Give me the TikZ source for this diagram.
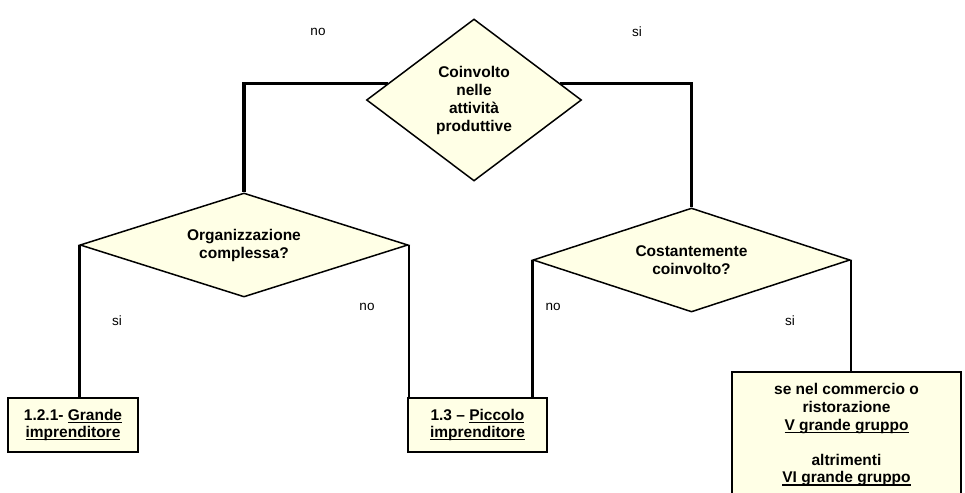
\documentclass[tikz,border=0pt]{standalone}
\usepackage{fontspec}
\setmainfont{Liberation Sans}
\usetikzlibrary{shapes.geometric}
\definecolor{cream}{RGB}{255,255,230}
\newcommand{\undl}[1]{\setbox0\hbox{#1}\rlap{\rule[-2.6pt]{\wd0}{1.2pt}}\box0}

\begin{document}
\begin{tikzpicture}[x=1pt,y=-1pt]
	\tikzstyle{decision} = [diamond, draw=black, line width=1.5pt, fill=cream, 
	inner sep=0pt, text centered, align=center, 
	font=\fontsize{15.5}{18}\selectfont\bfseries]
	\tikzstyle{outcome} = [rectangle, draw=black, line width=1.5pt, fill=cream, 
	inner sep=0pt, align=center, font=\fontsize{15.5}{17.6}\selectfont\bfseries]
	\tikzstyle{link} = [line width=2.5pt]
	\tikzstyle{answer} = [font=\fontsize{13.5}{16}\selectfont]
	\useasboundingbox (0,0) rectangle (965,492);
	\clip (0,0) rectangle (965,492);
	\node (involved) [decision, aspect=1.33, minimum width=215, minimum height=162] at (474,100) {Coinvolto\\nelle\\attività\\produttive};
	\node (complex) [decision, aspect=3.15, minimum width=328, minimum height=104] at (244,245) {Organizzazione\\complessa?};
	\node (constant) [decision, aspect=3.05, minimum width=317, minimum height=104] at (691.5,260) {Costantemente\\coinvolto?};
	\node (big) [outcome, minimum width=130, minimum height=54] at (73,425) {1.2.1- \undl{Grande}\\\undl{imprenditore}};
	\node (small) [outcome, minimum width=139, minimum height=54] at (477.5,425) {1.3 – \undl{Piccolo}\\\undl{imprenditore}};
	\node (group) [outcome, minimum width=229, minimum height=126] at (846.5,435) {se nel commercio o\\ristorazione\\\undl{V grande gruppo}\\[17.6pt]altrimenti\\\undl{VI grande gruppo}};
	\node (noTop) [answer] at (318,32) {no};
	\node (siTop) [answer] at (637,32) {si};
	\node (siLeft) [answer] at (117,321) {si};
	\node (noLeft) [answer] at (367,307) {no};
	\node (noRight) [answer] at (553,307) {no};
	\node (siRight) [answer] at (790,321) {si};
	\draw [link, line width=3.5pt] (involved.169) -| (complex.north);
	\draw [link] (involved.11) -| (constant.north);
	\draw [link] (complex.west) -- (complex.west |- big.north);
	\draw [link] (complex.east) -- (complex.east |- small.north);
	\draw [link] (constant.west) -- (constant.west |- small.north);
	\draw [link] (constant.east) -- (constant.east |- group.north);
\end{tikzpicture}
\end{document}
